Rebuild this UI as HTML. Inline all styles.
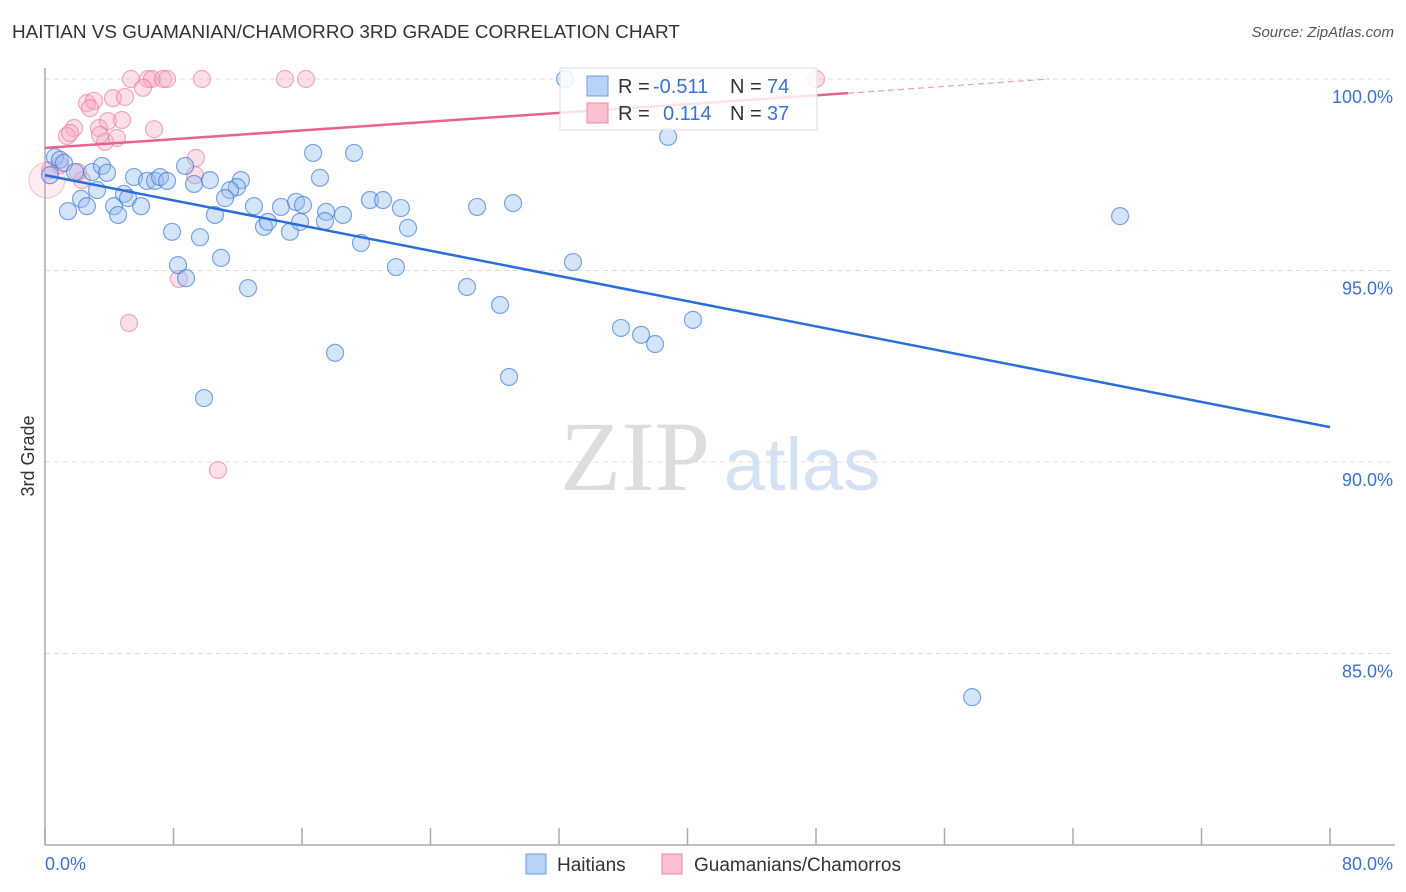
<!DOCTYPE html>
<html><head><meta charset="utf-8"><style>
body{margin:0;background:#fff;font-family:"Liberation Sans",sans-serif}
#wrap{position:relative;width:1406px;height:892px;overflow:hidden}
.t{position:absolute;white-space:nowrap}
</style></head><body><div id="wrap">
<div class="t" style="left:12px;top:22px;font-size:18.9px;color:#333">HAITIAN VS GUAMANIAN/CHAMORRO 3RD GRADE CORRELATION CHART</div>
<div class="t" style="right:12px;top:24px;font-size:15px;color:#555;font-style:italic">Source: ZipAtlas.com</div>
<svg id="svg" width="1406" height="892" style="position:absolute;left:0;top:0"></svg>
</div>
<script>
const blueX=[32.38,38.79,66.93,57.72,16.69,19.24,0.62,0.93,1.18,0.31,1.87,2.93,3.55,3.86,5.54,6.35,6.85,7.16,7.60,8.72,9.28,10.27,12.20,11.95,11.52,11.21,17.12,3.24,2.24,2.61,1.43,4.30,4.55,4.92,5.17,5.98,7.91,9.65,10.58,10.96,8.28,8.78,12.64,13.01,13.63,13.88,14.69,15.25,15.63,16.06,15.88,17.50,17.43,18.55,19.67,20.23,21.04,22.16,22.60,21.85,26.90,29.14,32.87,26.27,28.33,35.86,37.11,37.98,40.34,18.06,28.89,9.90];
const blueY=[100.0,98.49,96.42,83.86,98.07,98.07,97.96,97.89,97.81,97.49,97.57,97.57,97.73,97.55,97.44,97.34,97.34,97.44,97.34,97.73,97.26,97.36,97.36,97.18,97.10,96.89,97.42,97.10,96.87,96.68,96.55,96.68,96.45,97.00,96.89,96.68,96.01,95.87,96.45,95.33,95.14,94.80,94.54,96.68,96.14,96.27,96.66,96.01,96.79,96.71,96.27,96.53,96.29,96.45,95.72,96.84,96.84,96.63,96.11,95.09,96.66,96.76,95.22,94.57,94.10,93.50,93.32,93.08,93.71,92.85,92.22,91.67];
const pinkX=[5.35,6.41,6.66,7.35,7.60,9.77,14.94,16.25,48.0,6.10,2.61,3.05,4.23,4.98,2.80,3.36,3.92,4.79,6.79,1.81,1.37,1.56,3.74,4.48,3.42,9.40,9.34,2.30,0.93,0.31,0.12,8.34,5.23,10.77,2.05];
const pinkY=[100,100,100,100,100,100,100,100,100,99.77,99.37,99.43,99.50,99.53,99.24,98.72,98.90,98.93,98.69,98.72,98.51,98.59,98.36,98.46,98.54,97.94,97.49,97.36,97.75,97.62,97.36,94.78,93.63,89.79,97.57];
const blueTrend=[97.49,90.91]; // at x=0 and x=80
const pinkTrend=[98.20,99.63,100.0]; // at x=0, 50, 62.5
const yTicks=[100,95,90,85];
const NS="http://www.w3.org/2000/svg";
const svg=document.getElementById('svg');
const X=v=>45+v/80*1285, Y=v=>79+(100-v)/5*191.5;
function el(t,a,p){const e=document.createElementNS(NS,t);for(const k in a)e.setAttribute(k,a[k]);(p||svg).appendChild(e);return e;}
yTicks.forEach(v=>{
 const g=el('line',{x1:45,x2:1395,y1:Y(v),y2:Y(v),stroke:'#ddd','stroke-dasharray':'5,4'});
 
 
 const t=el('text',{x:1393,y:Y(v)+24,'text-anchor':'end','font-size':18,fill:'#3b72d0'});t.textContent=v.toFixed(1)+'%';
 
 
});
const ax=el('line',{x1:45,x2:45,y1:68,y2:845,stroke:'#aaa','stroke-width':1.5});


const bx=el('line',{x1:45,x2:1395,y1:845,y2:845,stroke:'#aaa','stroke-width':1.5});


for(let i=0;i<=10;i++){const l=el('line',{x1:X(i*8),x2:X(i*8),y1:828,y2:845,stroke:'#aaa','stroke-width':1.5});
 
 }
[['0.0%',45,'start'],['80.0%',1393,'end']].forEach(a=>{const t=el('text',{x:a[1],y:870,'text-anchor':a[2],'font-size':18,fill:'#3b72d0'});t.textContent=a[0];
 
 });
const yt=el('text',{x:34,y:456,transform:'rotate(-90 34 456)','text-anchor':'middle','font-size':18,fill:'#333'});yt.textContent='3rd Grade';


const w1=el('text',{x:635,y:490,'text-anchor':'middle','font-size':100,fill:'#ddd','font-family':'Liberation Serif'});w1.textContent='ZIP';


const w2=el('text',{x:802,y:490,'text-anchor':'middle','font-size':74,fill:'#d5e2f4'});w2.textContent='atlas';


pinkX.forEach((x,i)=>{const big=x<0.2;const c=el('circle',{cx:X(x),cy:Y(pinkY[i]),r:(big?18:8.5),fill:big?'rgba(246,170,196,0.22)':'rgba(246,170,196,0.38)',stroke:big?'rgba(232,120,155,0.35)':'rgba(232,120,155,0.6)','stroke-width':1.2});
 
 });
blueX.forEach((x,i)=>{const c=el('circle',{cx:X(x),cy:Y(blueY[i]),r:8.5,fill:'rgba(150,190,240,0.4)',stroke:'rgba(60,120,215,0.65)','stroke-width':1.2});
 
 });
const bl=el('line',{x1:X(0),y1:Y(blueTrend[0]),x2:X(80),y2:Y(blueTrend[1]),stroke:'#2a6fd8','stroke-width':2.5});


const pl=el('line',{x1:X(0),y1:Y(pinkTrend[0]),x2:X(50),y2:Y(pinkTrend[1]),stroke:'#e8628f','stroke-width':2.5});


const pd=el('line',{x1:X(50),y1:Y(pinkTrend[1]),x2:X(62.5),y2:Y(pinkTrend[2]),stroke:'#e8a0b8','stroke-width':1.2,'stroke-dasharray':'6,4'});


const lg=el('g',{});


el('rect',{x:560,y:68,width:257,height:62,fill:'rgba(255,255,255,0.82)',stroke:'#ddd'},lg);
el('rect',{x:587,y:76,width:21,height:20,fill:'#b8d2f6',stroke:'#6a9ee4'},lg);
el('rect',{x:587,y:103,width:21,height:20,fill:'#f9c0d2',stroke:'#ea8aa8'},lg);
[[93,'-0.511','74',653],[120,'0.114','37',663]].forEach(r=>{
 const a=el('text',{x:618,y:r[0],'font-size':20,fill:'#333'},lg);a.textContent='R =';
 const b=el('text',{x:r[3],y:r[0],'font-size':20,fill:'#3b72d0'},lg);b.textContent=r[1];
 const c=el('text',{x:730,y:r[0],'font-size':20,fill:'#333'},lg);c.textContent='N =';
 const d=el('text',{x:767,y:r[0],'font-size':20,fill:'#3b72d0'},lg);d.textContent=r[2];
});
const bg=el('g',{});


el('rect',{x:526,y:854,width:20,height:20,fill:'#b8d2f6',stroke:'#6a9ee4'},bg);
el('rect',{x:662,y:854,width:20,height:20,fill:'#f9c0d2',stroke:'#ea8aa8'},bg);
const l1=el('text',{x:557,y:871,'font-size':19,fill:'#333'},bg);l1.textContent='Haitians';
const l2=el('text',{x:694,y:871,'font-size':19,fill:'#333'},bg);l2.textContent='Guamanians/Chamorros';
</script></body></html>
